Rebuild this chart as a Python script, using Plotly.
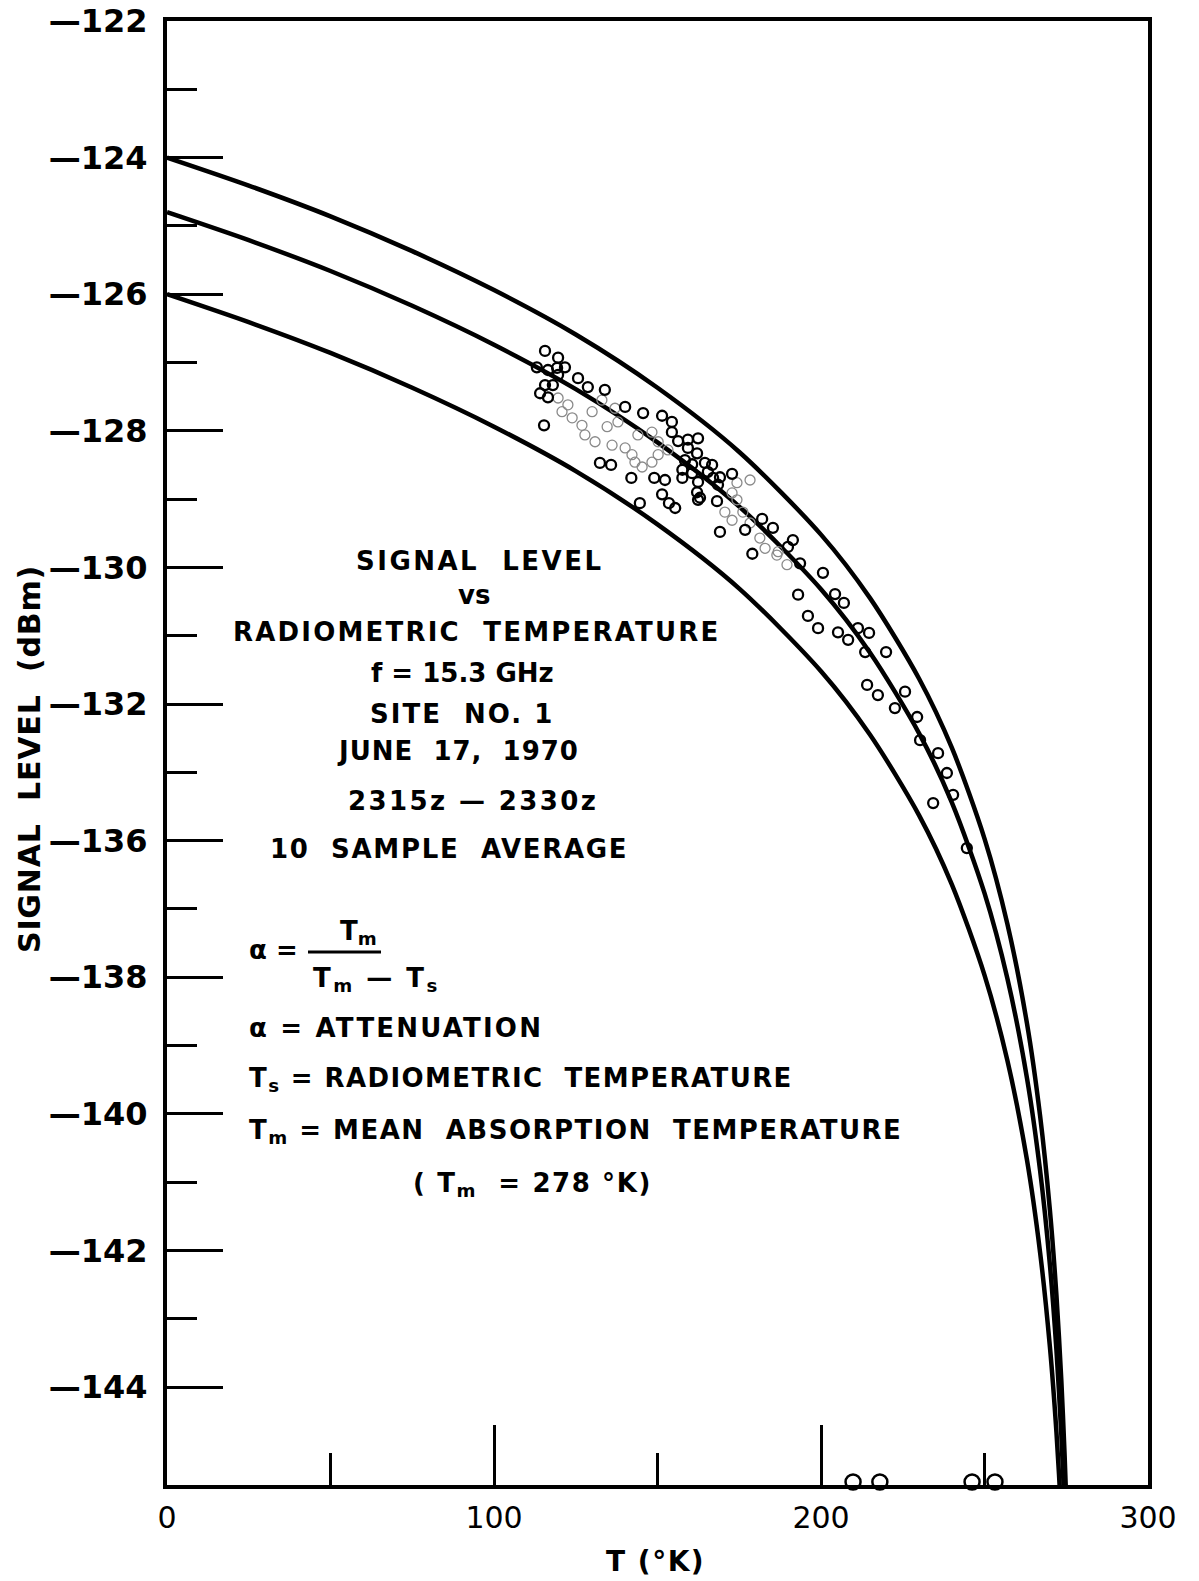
import plotly.graph_objects as go

# ---------------- data ----------------
curve_T = [0, 25, 50, 75, 100, 125, 150, 175, 200, 215, 230, 240, 250, 257, 263, 267, 270, 272, 273.5, 274.5, 274.9]
curve_top = [-124.00, -124.41, -124.86, -125.37, -125.94, -126.59, -127.37, -128.31, -129.52, -130.45,
             -131.63, -132.64, -133.97, -135.22, -136.68, -138.03, -139.41, -140.66, -141.91, -143.00, -143.53]
curve_mid = [-124.80, -125.21, -125.66, -126.17, -126.74, -127.39, -128.17, -129.11, -130.32, -131.25,
             -132.43, -133.44, -134.77, -136.02, -137.48, -138.83, -140.21, -141.46, -142.71, -143.80, -144.33]
curve_low = [-126.00, -126.41, -126.86, -127.37, -127.94, -128.59, -129.37, -130.31, -131.52, -132.45,
             -133.63, -134.64, -135.97, -137.22, -138.68, -140.03, -141.41, -142.66, -143.91, -145.00, -145.53]

obs_T = [115.6, 119.6, 113.1, 116.5, 119.3, 121.7, 114.1, 116.5, 115.6, 119.6, 118.0, 125.7, 128.7, 133.9,
         140.1, 115.3, 145.6, 151.4, 154.4, 154.4, 156.3, 159.3, 162.4, 159.3, 162.1, 158.4, 160.6, 157.6,
         160.6, 157.6, 162.4, 162.1, 162.4, 132.4, 135.8, 142.0, 149.0, 152.3, 151.4, 153.5, 155.4, 144.6,
         164.5, 166.7, 165.4, 167.0, 169.1, 168.5, 172.8, 163.0, 168.2, 169.1, 176.8, 182.0, 185.3, 191.4,
         189.9, 179.0, 193.6, 200.6,
         193.0, 204.3, 207.0, 196.0, 199.1, 205.2, 208.3, 211.3, 214.7, 213.5, 219.9, 214.1, 217.4, 225.7,
         222.6, 229.4,
         230.3, 235.8, 238.5, 240.4, 234.3, 244.6]
obs_S = [-126.83, -126.93, -127.07, -127.11, -127.08, -127.07, -127.45, -127.51, -127.33, -127.18, -127.33,
         -127.23, -127.36, -127.40, -127.65, -127.92, -127.74, -127.78, -127.87, -128.02, -128.15, -128.13,
         -128.11, -128.25, -128.33, -128.43, -128.49, -128.57, -128.62, -128.69, -128.75, -128.90, -129.01,
         -128.47, -128.50, -128.69, -128.69, -128.72, -128.93, -129.06, -129.13, -129.06,
         -128.47, -128.50, -128.60, -128.69, -128.68, -128.79, -128.63, -128.98, -129.03, -129.48, -129.45,
         -129.29, -129.42, -129.60, -129.70, -129.80, -129.94, -130.08,
         -130.40, -130.39, -130.52, -130.71, -130.89, -130.95, -131.06, -130.89, -130.96, -131.24, -131.24,
         -131.72, -131.87, -131.82, -132.06, -132.19,
         -132.53, -132.72, -133.01, -133.33, -133.45, -134.11]

faint_T = [127.8, 130.9, 136.1, 140.1, 143.1, 145.3, 150.2, 153.2, 134.6, 126.9, 123.9, 120.8, 122.6, 130.0,
           133.0, 137.0, 137.9, 144.0, 148.3, 150.2, 142.2, 148.3, 119.6,
           174.3, 178.3, 172.8, 174.3, 170.6, 172.8, 176.1, 178.3, 182.9, 186.9, 189.6, 181.3, 186.5]
faint_S = [-128.06, -128.16, -128.21, -128.25, -128.46, -128.53, -128.35, -128.28, -127.94, -127.92, -127.81,
           -127.72, -127.62, -127.72, -127.55, -127.67, -127.87, -128.06, -128.02, -128.16, -128.35, -128.46,
           -127.52,
           -128.76, -128.72, -128.91, -129.01, -129.19, -129.31, -129.19, -129.35, -129.72, -129.77, -129.96,
           -129.57, -129.82]

off_T = [209.8, 218.0, 246.2, 253.2]
off_S = [-143.39, -143.39, -143.39, -143.39]

y_tickvals = [-122, -124, -126, -128, -130, -132, -134, -136, -138, -140, -142]
y_ticktext = ["—122", "—124", "—126", "—128", "—130", "—132", "—136", "—138", "—140", "—142", "—144"]
y_minorvals = [-123, -125, -127, -129, -131, -133, -135, -137, -139, -141]
x_tickvals = [0, 100, 200, 300]
x_ticktext = ["0", "100", "200", "300"]
x_minorvals = [50, 150, 250]

# ---------------- layout geometry (screen pixels) ----------------
W, H = 1199, 1581
PL, PR, PT, PB = 167, 1148, 21, 1485   # plot area on screen
FONT = "DejaVu Sans"


def px(x):
    return (x - PL) / (PR - PL)


def py(y):
    return (PB - y) / (PB - PT)


fig = go.Figure()

for ys in (curve_top, curve_mid, curve_low):
    fig.add_trace(go.Scatter(x=curve_T, y=ys, mode="lines",
                             line=dict(color="black", width=4.5, shape="spline", smoothing=0.8),
                             showlegend=False, hoverinfo="skip"))

fig.add_trace(go.Scatter(x=faint_T, y=faint_S, mode="markers",
                         marker=dict(symbol="circle-open", size=10, color="#8a8a8a", line=dict(width=1.3)),
                         showlegend=False))
fig.add_trace(go.Scatter(x=obs_T, y=obs_S, mode="markers",
                         marker=dict(symbol="circle-open", size=10, color="black", line=dict(width=2.3)),
                         showlegend=False))
fig.add_trace(go.Scatter(x=off_T, y=off_S, mode="markers", cliponaxis=False,
                         marker=dict(symbol="circle-open", size=15, color="black", line=dict(width=2.5)),
                         showlegend=False))

fig.update_layout(
    width=W, height=H, autosize=False,
    margin=dict(l=PL, r=W - PR, t=PT, b=H - PB, pad=0, autoexpand=False),
    paper_bgcolor="white", plot_bgcolor="white",
    font=dict(family=FONT, color="black"),
    xaxis=dict(range=[0, 300], showgrid=False, zeroline=False, automargin=False,
               showline=True, linecolor="black", linewidth=4, mirror=True,
               ticks="inside", ticklen=60, tickwidth=3, tickcolor="black",
               tickvals=x_tickvals, ticktext=x_ticktext, ticklabelstandoff=3,
               ticklabeloverflow="allow",
               tickfont=dict(family=FONT, size=30, color="black"),
               minor=dict(ticks="inside", ticklen=32, tickwidth=3, tickcolor="black",
                          tickvals=x_minorvals, showgrid=False)),
    yaxis=dict(range=[-122 - (PB - PT) / 68.3, -122], showgrid=False, zeroline=False, automargin=False,
               showline=True, linecolor="black", linewidth=4, mirror=True,
               ticks="inside", ticklen=56, tickwidth=3, tickcolor="black",
               tickvals=y_tickvals, ticktext=y_ticktext, ticklabelstandoff=9,
               ticklabeloverflow="allow",
               tickfont=dict(family=FONT, size=32, color="black", weight="bold"),
               minor=dict(ticks="inside", ticklen=30, tickwidth=3, tickcolor="black",
                          tickvals=y_minorvals, showgrid=False)),
)

ann = []


def text(t, x, y, size=26, xanchor="center", angle=0, spacing=0):
    if spacing:
        t = '<span style="letter-spacing:%.1fpx">%s</span>' % (spacing, t)
    ann.append(dict(text=t, x=px(x), y=py(y), xref="paper", yref="paper", showarrow=False,
                    xanchor=xanchor, yanchor="middle", textangle=angle,
                    font=dict(family=FONT, size=size, color="black", weight="bold")))


# title block
text("SIGNAL  LEVEL", 480, 561, spacing=2.5)
text("vs", 474, 595)
text("RADIOMETRIC  TEMPERATURE", 477, 632, spacing=2.2)
text("f = 15.3 GHz", 462, 673)
text("SITE  NO. 1", 462, 714, spacing=2)
text("JUNE  17,  1970", 458, 751, spacing=1)
text("2315z — 2330z", 473, 801, spacing=2.4)
text("10  SAMPLE  AVERAGE", 449, 849, spacing=1.7)

# formula block
text("α =", 247, 950, xanchor="left")
text("T<sub>m</sub>", 358, 932)
text("T<sub>m</sub> — T<sub>s</sub>", 376, 979, spacing=2.5)
text("α = ATTENUATION", 247, 1028, xanchor="left", spacing=2.2)
text("T<sub>s</sub> = RADIOMETRIC  TEMPERATURE", 247, 1079, xanchor="left", spacing=1.4)
text("T<sub>m</sub> = MEAN  ABSORPTION  TEMPERATURE", 247, 1131, xanchor="left", spacing=1.5)
text("( T<sub>m</sub>  = 278 °K)", 532, 1184, spacing=1.6)

# axis titles
text("SIGNAL  LEVEL  (dBm)", 30, 759, size=30, angle=-90, spacing=0.8)
text("T (°K)", 655, 1561, size=28, spacing=1.5)

fig.update_layout(annotations=ann)
fig.add_shape(type="line", xref="paper", yref="paper", x0=px(308), x1=px(381), y0=py(952), y1=py(952),
              line=dict(color="black", width=3))

fig.write_html("out.html", config={"displayModeBar": False},
               post_script="document.body.style.margin='0';document.body.style.overflow='hidden';")
